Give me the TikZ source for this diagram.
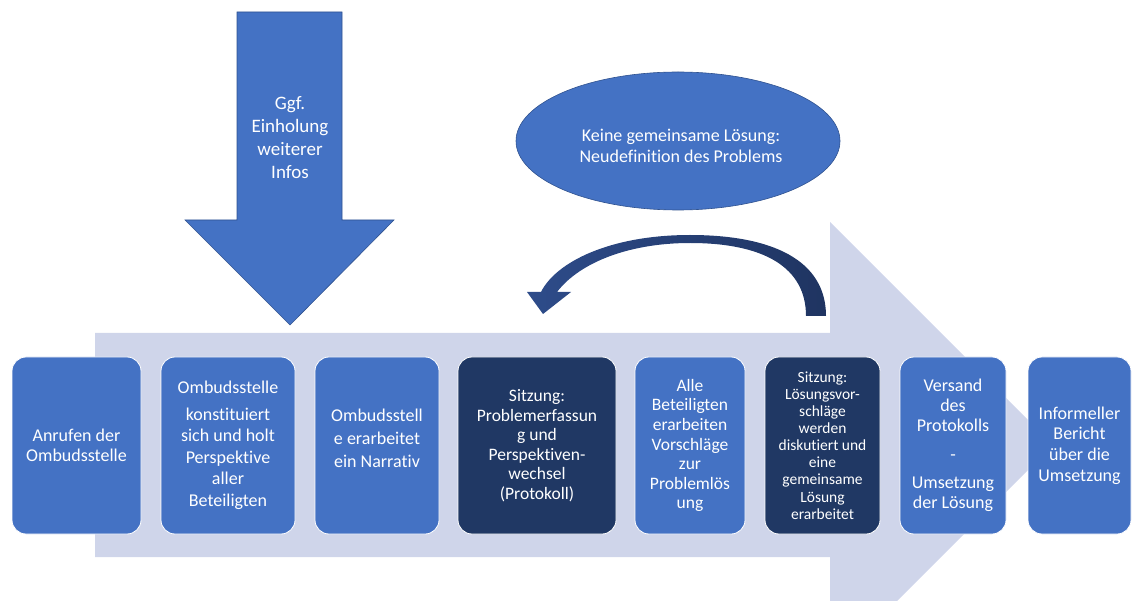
\documentclass[tikz,border=0pt]{standalone}
\usepackage{fontspec}
\setmainfont{Carlito}[Ligatures=NoCommon]
\usetikzlibrary{shapes.geometric}
\definecolor{boxblue}{HTML}{4472C4}
\definecolor{boxdark}{HTML}{203864}
\definecolor{flowlight}{HTML}{CFD5EA}
\definecolor{arrowdark}{HTML}{1F3461}
\definecolor{arrowmid}{HTML}{2E4C8A}
\definecolor{edgeblue}{HTML}{2F528F}
\begin{document}
\begin{tikzpicture}[x=1pt,y=-1pt,
  stepbox/.style={draw=white, line width=0.8pt, rounded corners=14pt, text=white,
    align=center, inner sep=0pt, minimum height=177pt},
  lightbox/.style={stepbox, fill=boxblue},
  darkbox/.style={stepbox, fill=boxdark},
  whitetext/.style={text=white, align=center, inner sep=0pt}]
\useasboundingbox (0,0) rectangle (1132,601);
\begin{scope}
\clip (0,0) rectangle (1132,601);
% big process arrow
\fill[flowlight] (95,333) -- (830,333) -- (830,222) -- (1053,445) -- (830,668) -- (830,557) -- (95,557) -- cycle;
\end{scope}
% down arrow
\filldraw[fill=boxblue, draw=edgeblue, line width=0.6pt]
  (237,12) -- (342,12) -- (342,220) -- (394,220) -- (290,325) -- (185,220) -- (237,220) -- cycle;
\node[whitetext, font=\fontsize{19}{23}\selectfont] (info) at (290,138) {Ggf.\\Einholung\\weiterer\\Infos};
% ellipse
\node[ellipse, draw=edgeblue, fill=boxblue, line width=0.6pt, minimum width=324pt, minimum height=138pt, inner sep=0pt] (loop) at (678,141) {};
\node[whitetext, font=\fontsize{18}{20.5}\selectfont] (looptext) at (681,146) {Keine gemeinsame Lösung:\\Neudefinition des Problems};
% curved return arrow
\shade[left color=arrowmid, right color=arrowdark]
  (826,316) .. controls (826,260) and (772,235) .. (690,235)
  .. controls (610,235) and (556,262) .. (541,292)
  -- (527,292) -- (543,314) -- (571,292) -- (557,292)
  .. controls (580,262) and (630,243) .. (690,243)
  .. controls (765,243) and (806,268) .. (806,316) -- cycle;
% process steps
\node[lightbox, minimum width=129pt, font=\fontsize{18}{19.5}\selectfont] (s1) at (76.5,445.5) {Anrufen der\\Ombudsstelle};
\node[lightbox, minimum width=134pt, font=\fontsize{18}{21.5}\selectfont] (s2) at (228,445.5) {Ombudsstelle\\[5pt]konstituiert\\sich und holt\\Perspektive\\aller\\Beteiligten};
\node[lightbox, minimum width=124pt, font=\fontsize{18}{22.5}\selectfont] (s3) at (377,445.5) {Ombudsstell\\e erarbeitet\\ein Narrativ\\[-8pt]};
\node[darkbox, minimum width=158pt, font=\fontsize{17.5}{19.5}\selectfont] (s4) at (537,445.5) {Sitzung:\\Problemerfassun\\g und\\Perspektiven-\\wechsel\\(Protokoll)};
\node[lightbox, minimum width=110pt, font=\fontsize{17.5}{19.6}\selectfont] (s5) at (690,445.5) {Alle\\Beteiligten\\erarbeiten\\Vorschläge\\zur\\Problemlös\\ung};
\node[darkbox, minimum width=115pt, font=\fontsize{15.5}{17.1}\selectfont] (s6) at (822.5,445.5) {Sitzung:\\Lösungsvor-\\schläge\\werden\\diskutiert und\\eine\\gemeinsame\\Lösung\\erarbeitet};
\node[lightbox, minimum width=106pt, font=\fontsize{18}{19.8}\selectfont] (s7) at (953,445.5) {Versand\\des\\Protokolls\\[9pt]-\\[9pt]Umsetzung\\der Lösung};
\node[lightbox, minimum width=103pt, font=\fontsize{18}{20.7}\selectfont] (s8) at (1079.5,445.5) {Informeller\\Bericht\\über die\\Umsetzung};
\end{tikzpicture}
\end{document}
